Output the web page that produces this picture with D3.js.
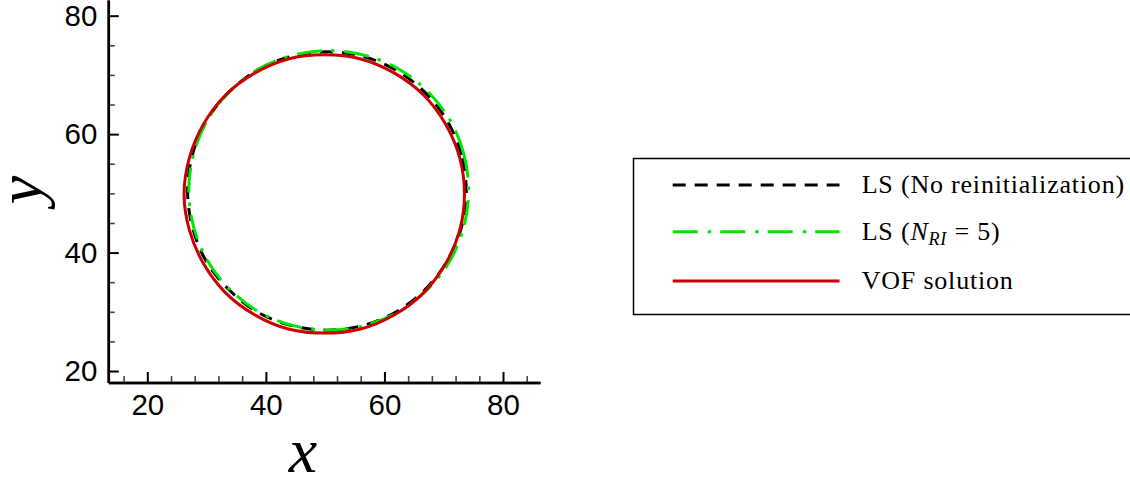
<!DOCTYPE html>
<html>
<head>
<meta charset="utf-8">
<script src="https://cdn.jsdelivr.net/npm/d3@7"></script>
<style>
  html, body { margin: 0; padding: 0; background: #fff; }
  svg { display: block; }
</style>
</head>
<body>
<svg id="chart" width="1130" height="479"></svg>
<script>
// ---- data ----
const xMajorTicks = [20, 40, 60, 80];
const xMinorTicks = [16, 24, 28, 32, 36, 44, 48, 52, 56, 64, 68, 72, 76, 84];
const yMajorTicks = [20, 40, 60, 80];
const yMinorTicks = [25, 30, 35, 45, 50, 55, 65, 70, 75];

// interface contour points (x, y), counter-clockwise from the rightmost point
const lsNoReinit = [
  [73.8, 50.4], [73.0, 56.5], [70.6, 62.2], [66.9, 67.0], [62.0, 70.8], [56.4, 73.1],
  [50.3, 73.9], [44.2, 73.1], [38.5, 70.8], [33.7, 67.0], [29.9, 62.2], [27.6, 56.5],
  [26.8, 50.4], [27.6, 44.3], [29.9, 38.6], [33.7, 33.8], [38.5, 30.0], [44.2, 27.7],
  [50.3, 26.9], [56.4, 27.7], [62.0, 30.0], [66.9, 33.8], [70.6, 38.6], [73.0, 44.3]
];
const lsReinit5 = [
  [74.2, 50.5], [73.4, 56.6], [71.1, 62.3], [67.3, 67.2], [62.4, 71.0], [56.7, 73.3],
  [50.6, 74.1], [44.5, 73.3], [38.8, 71.0], [33.9, 67.2], [30.1, 62.3], [27.8, 56.6],
  [27.0, 50.5], [27.8, 44.4], [30.1, 38.7], [33.9, 33.8], [38.8, 30.0], [44.5, 27.7],
  [50.6, 26.9], [56.7, 27.7], [62.4, 30.0], [67.3, 33.8], [71.1, 38.7], [73.4, 44.4]
];
const vofSolution = [
  [73.5, 49.9], [72.7, 56.0], [70.3, 61.7], [66.6, 66.6], [61.7, 70.3], [56.0, 72.7],
  [49.9, 73.4], [43.8, 72.7], [38.1, 70.3], [33.2, 66.6], [29.5, 61.7], [27.1, 56.0],
  [26.2, 49.9], [27.1, 43.8], [29.5, 38.1], [33.2, 33.2], [38.1, 29.5], [43.8, 27.1],
  [49.9, 26.4], [56.0, 27.1], [61.7, 29.5], [66.6, 33.2], [70.3, 38.1], [72.7, 43.8]
];
const seriesNames = ["LS (No reinitialization)", "LS (N_RI = 5)", "VOF solution"];

// ---- layout ----
const svg = d3.select("#chart");
const x = d3.scaleLinear().domain([13.42, 86.24]).range([108.3, 540]);
const y = d3.scaleLinear().domain([18.06, 82.65]).range([382.5, 0]);

const series = [
  { name: seriesNames[0], data: lsNoReinit, color: "#000000", dash: "13,9" },
  { name: seriesNames[1], data: lsReinit5, color: "#00e600", dash: "25,10,3.5,9" },
  { name: seriesNames[2], data: vofSolution, color: "#cc0000", dash: null }
];

// curves
const line = d3.line().x(d => x(d[0])).y(d => y(d[1])).curve(d3.curveCatmullRomClosed.alpha(0.5));
svg.append("g").selectAll("path").data(series).join("path")
  .attr("d", d => line(d.data))
  .attr("fill", "none")
  .attr("stroke", d => d.color)
  .attr("stroke-width", 3)
  .attr("stroke-dasharray", d => d.dash);

// axes
const xAxisMinor = d3.axisBottom(x).tickValues(xMinorTicks).tickSizeInner(-6.5).tickSizeOuter(0).tickFormat("");
const yAxisMinor = d3.axisLeft(y).tickValues(yMinorTicks).tickSizeInner(-6.5).tickSizeOuter(0).tickFormat("");
const xAxis = d3.axisBottom(x).tickValues(xMajorTicks).tickSizeInner(-10.5).tickSizeOuter(0).tickPadding(12).tickFormat(d3.format("d"));
const yAxis = d3.axisLeft(y).tickValues(yMajorTicks).tickSizeInner(-10.5).tickSizeOuter(0).tickPadding(11).tickFormat(d3.format("d"));

function styleAxis(g, minor) {
  g.select(".domain").attr("stroke", "#000").attr("stroke-width", 2.5);
  g.selectAll(".tick line").attr("stroke", minor ? "#444" : "#000").attr("stroke-width", minor ? 1.6 : 2);
  g.selectAll(".tick text").attr("fill", "#000")
    .style("font-family", "'Liberation Sans', Arial, Helvetica, sans-serif").style("font-size", "29.5px");
}
svg.append("g").attr("transform", `translate(0,${y.range()[0]})`).call(xAxisMinor).call(g => styleAxis(g, true));
svg.append("g").attr("transform", `translate(${x.range()[0]},0)`).call(yAxisMinor).call(g => styleAxis(g, true));
svg.append("g").attr("transform", `translate(0,${y.range()[0]})`).call(xAxis).call(g => styleAxis(g, false));
svg.append("g").attr("transform", `translate(${x.range()[0]},0)`).call(yAxis).call(g => styleAxis(g, false));

// axis titles
svg.append("text").attr("x", 303).attr("y", 471.5).attr("text-anchor", "middle")
  .style("font-family", "'Liberation Serif', 'Times New Roman', serif").style("font-style", "italic").style("font-size", "64px")
  .text("x");
svg.append("text").attr("transform", "translate(41,190) rotate(-90)").attr("text-anchor", "middle")
  .style("font-family", "'Liberation Serif', 'Times New Roman', serif").style("font-style", "italic").style("font-size", "64px")
  .text("y");

// legend
const lg = svg.append("g");
lg.append("rect").attr("x", 633.5).attr("y", 158.5).attr("width", 520).attr("height", 156)
  .attr("fill", "#fff").attr("stroke", "#000").attr("stroke-width", 1.5);
const rowY = [185, 231.7, 281];
const legendFont = "'Liberation Serif', 'Times New Roman', serif";
series.forEach((s, i) => {
  lg.append("line").attr("x1", 672.7).attr("x2", 839.5).attr("y1", rowY[i]).attr("y2", rowY[i])
    .attr("stroke", s.color).attr("stroke-width", 3).attr("stroke-dasharray", s.dash);
  const t = lg.append("text").attr("x", 861.7).attr("y", rowY[i] + 8.3)
    .style("font-family", legendFont).style("font-size", "26px").style("letter-spacing", "0.8px").attr("fill", "#000");
  if (s.name.includes("N_RI")) {
    t.append("tspan").text("LS (");
    t.append("tspan").style("font-style", "italic").text("N");
    t.append("tspan").style("font-style", "italic").style("font-size", "18px").attr("dy", 5).text("RI");
    t.append("tspan").attr("dy", -5).text(" = 5)");
  } else {
    t.text(s.name);
  }
});
</script>
</body>
</html>
